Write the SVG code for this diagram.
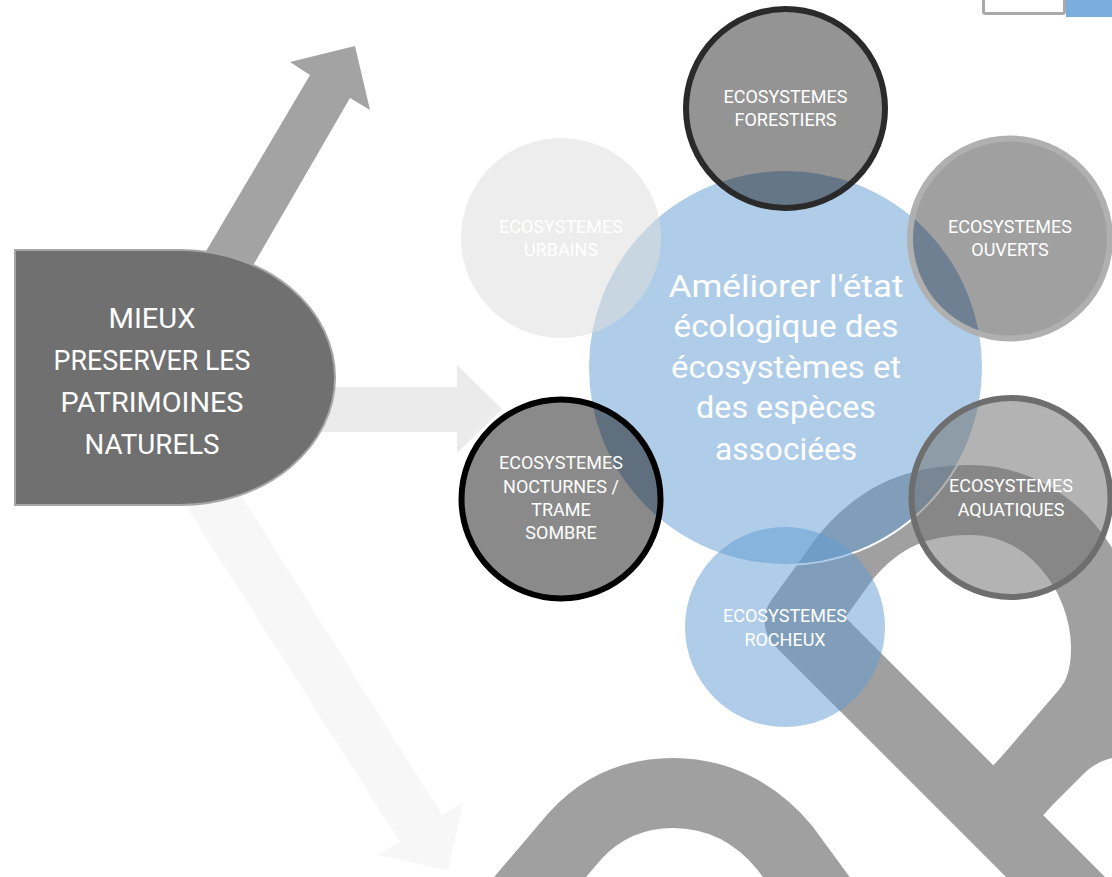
<svg xmlns="http://www.w3.org/2000/svg" width="1112" height="877" viewBox="0 0 1112 877">
  <style>
    .band { fill: none; stroke: #a0a0a0; stroke-width: 70; stroke-linejoin: round; stroke-linecap: butt; }
    .lbl { font-family: Roboto, "Liberation Sans", sans-serif; font-size: 18px; fill: #ffffff; text-anchor: middle; }
    .big { font-family: Roboto, "Liberation Sans", sans-serif; font-size: 32px; fill: #ffffff; text-anchor: middle; }
    .main { font-family: Roboto, "Liberation Sans", sans-serif; font-size: 28px; fill: #ffffff; text-anchor: middle; }
    .blue { fill: #5f9bd2; fill-opacity: 0.5; }
  </style>
  <rect width="1112" height="877" fill="#ffffff"/>

  <g id="background-logo">
    <path class="band" d="M 1210 1031.5 L 799.5 621 L 845 558 C 880 515, 920 500, 970 500 C 1048 500, 1105 572, 1106 647 C 1106 675, 1100 695, 1086 712 L 1000 812"/>
    <path class="band" d="M 985 823 L 1059 749 C 1080 728, 1105 720, 1150 718"/>
    <path class="band" d="M 495 930 L 575 836 C 605 803, 640 793, 673 793 C 720 793, 758 815, 785 848 L 840 923"/>
  </g>

  <g id="top-corner">
    <rect x="983.5" y="-6" width="81" height="19.5" rx="2" fill="#ffffff" stroke="#a9a9a9" stroke-width="3"/>
    <rect x="1066" y="0" width="46" height="17" fill="#7aaedc"/>
  </g>

  <g id="connectors">
    <polygon points="189,280 310,75 290,62 355,46 370,110 350,98 233,300" fill="#a3a3a3"/>
    <polygon points="300,387 457,387 457,365 502,409 457,453 457,432 300,432" fill="#ebebeb"/>
    <polygon points="163,470 400,842 378,855 448,870 463,802 442,815 225,470" fill="#f7f7f7"/>
  </g>

  <g id="node-main">
    <path d="M 15 250 H 180 A 155 127.5 0 0 1 180 505 H 15 Z" fill="#707070" stroke="#a6a6a6" stroke-width="2"/>
    <text class="main" x="152" y="328" textLength="87" lengthAdjust="spacingAndGlyphs">MIEUX</text>
    <text class="main" x="152" y="370" textLength="197" lengthAdjust="spacingAndGlyphs">PRESERVER LES</text>
    <text class="main" x="152" y="412" textLength="183" lengthAdjust="spacingAndGlyphs">PATRIMOINES</text>
    <text class="main" x="152" y="454" textLength="135" lengthAdjust="spacingAndGlyphs">NATURELS</text>
  </g>

  <g id="node-centre">
    <circle class="blue" cx="785.5" cy="367.5" r="197.5" stroke="#ffffff" stroke-width="2"/>
  </g>

  <g id="node-urbains">
    <circle cx="561" cy="238" r="100" fill="#dedede" fill-opacity="0.54"/>
    <text class="lbl" x="561" y="233">ECOSYSTEMES</text>
    <text class="lbl" x="561" y="256">URBAINS</text>
  </g>

  <g id="node-forestiers">
    <circle cx="785.5" cy="108.5" r="99.5" fill="#000000" fill-opacity="0.42" stroke="#2a2a2a" stroke-width="6"/>
    <text class="lbl" x="785.5" y="103">ECOSYSTEMES</text>
    <text class="lbl" x="785.5" y="126">FORESTIERS</text>
  </g>

  <g id="node-ouverts">
    <circle cx="1010" cy="238.5" r="100" fill="#000000" fill-opacity="0.373" stroke="#b0b0b0" stroke-width="6"/>
    <text class="lbl" x="1010" y="233">ECOSYSTEMES</text>
    <text class="lbl" x="1010" y="256">OUVERTS</text>
  </g>

  <g id="node-nocturnes">
    <circle cx="561" cy="499" r="99.5" fill="#000000" fill-opacity="0.46" stroke="#000000" stroke-width="6"/>
    <text class="lbl" x="561" y="469">ECOSYSTEMES</text>
    <text class="lbl" x="561" y="493">NOCTURNES /</text>
    <text class="lbl" x="561" y="516">TRAME</text>
    <text class="lbl" x="561" y="539">SOMBRE</text>
  </g>

  <g id="node-aquatiques">
    <circle cx="1011" cy="497.5" r="99.5" fill="#737373" fill-opacity="0.54" stroke="#6e6e6e" stroke-width="6"/>
    <text class="lbl" x="1011" y="492">ECOSYSTEMES</text>
    <text class="lbl" x="1011" y="516">AQUATIQUES</text>
  </g>

  <g id="node-rocheux">
    <circle class="blue" cx="785" cy="627" r="100"/>
    <text class="lbl" x="785" y="621.5">ECOSYSTEMES</text>
    <text class="lbl" x="785" y="645.5">ROCHEUX</text>
  </g>

  <g id="node-centre-label">
    <text class="big" x="786" y="297" textLength="235" lengthAdjust="spacingAndGlyphs">Améliorer l'état</text>
    <text class="big" x="786" y="337" textLength="225" lengthAdjust="spacingAndGlyphs">écologique des</text>
    <text class="big" x="786" y="378" textLength="230" lengthAdjust="spacingAndGlyphs">écosystèmes et</text>
    <text class="big" x="786" y="418" textLength="180" lengthAdjust="spacingAndGlyphs">des espèces</text>
    <text class="big" x="786" y="460" textLength="142" lengthAdjust="spacingAndGlyphs">associées</text>
  </g>
</svg>
